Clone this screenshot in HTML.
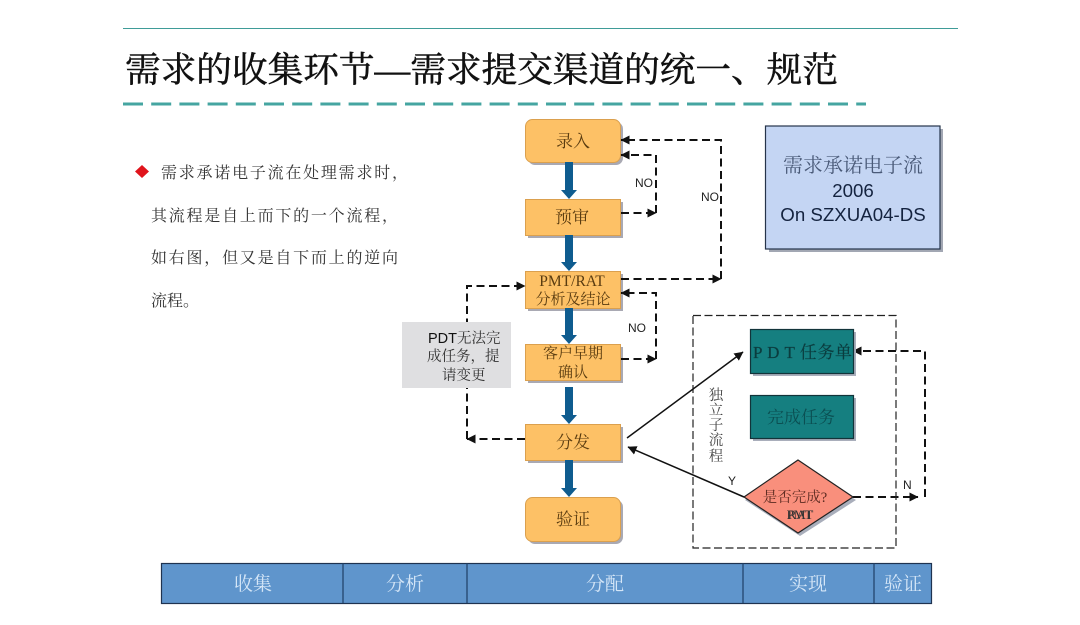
<!DOCTYPE html>
<html lang="zh">
<head>
<meta charset="utf-8">
<title>需求的收集环节</title>
<style>
html,body{margin:0;padding:0;background:#fff;width:1080px;height:625px;overflow:hidden}
svg{display:block;filter:blur(.35px)}
text{font-family:"Liberation Serif","Noto Serif CJK SC",serif}
text.s{font-family:"Liberation Sans","Noto Sans CJK SC",sans-serif}
</style>
</head>
<body>
<svg width="1080" height="625" viewBox="0 0 1080 625" xmlns="http://www.w3.org/2000/svg">
<defs>
<marker id="a" markerWidth="9" markerHeight="9" refX="8.500" refY="4.500" orient="auto" markerUnits="userSpaceOnUse"><path d="M0 0L9 4.500L0 9Z" fill="#111"/></marker>
</defs>
<rect width="1080" height="625" fill="#fff"/>

<!-- title -->
<line x1="123" y1="28.500" x2="958" y2="28.500" stroke="#3f9c98" stroke-width="1"/>
<text x="125" y="82" font-size="35" textLength="713" lengthAdjust="spacingAndGlyphs" fill="#111" stroke="#111" stroke-width=".5">需求的收集环节—需求提交渠道的统一、规范</text>
<line x1="123" y1="104" x2="866" y2="104" stroke="#45a5a1" stroke-width="3" stroke-dasharray="20 8.200"/>

<!-- left text -->
<path d="M142 165L149 171.500L142 178L135 171.500Z" fill="#e0141c"/>
<g font-size="16" fill="#333">
<text x="161" y="178" textLength="247">需求承诺电子流在处理需求时，</text>
<text x="151" y="221" textLength="247">其流程是自上而下的一个流程，</text>
<text x="151" y="263" textLength="247">如右图，但又是自下而上的逆向</text>
<text x="151" y="306">流程。</text>
</g>

<!-- shadows -->
<g fill="#a9a9b3">
<rect x="528" y="122" width="95" height="43" rx="7"/>
<rect x="528" y="202" width="95" height="36"/>
<rect x="528" y="274" width="95" height="37"/>
<rect x="528" y="347" width="95" height="36"/>
<rect x="528" y="427" width="95" height="36"/>
<rect x="528" y="500" width="95" height="44" rx="7"/>
</g>
<!-- orange nodes -->
<g fill="#fdc166" stroke="#dba04e" stroke-width="1">
<rect x="525.500" y="119.500" width="95" height="43" rx="7"/>
<rect x="525.500" y="199.500" width="95" height="36"/>
<rect x="525.500" y="271.500" width="95" height="37"/>
<rect x="525.500" y="344.500" width="95" height="36"/>
<rect x="525.500" y="424.500" width="95" height="36"/>
<rect x="525.500" y="497.500" width="95" height="44" rx="7"/>
</g>

<!-- thick arrows -->
<g fill="#0f5c8f">
<path d="M565 162H573V190H577L569 199L561 190H565Z"/>
<path d="M565 235H573V262H577L569 271L561 262H565Z"/>
<path d="M565 308H573V335H577L569 344L561 335H565Z"/>
<path d="M565 387H573V415H577L569 424L561 415H565Z"/>
<path d="M565 460H573V488H577L569 497L561 488H565Z"/>
</g>

<!-- node labels -->
<g fill="#5a3c10" text-anchor="middle">
<text x="573" y="147" font-size="17">录入</text>
<text x="572" y="223" font-size="17">预审</text>
<text x="572" y="286" font-size="15.500">PMT/RAT</text>
<text x="573" y="304" font-size="15">分析及结论</text>
<text x="573" y="358" font-size="15">客户早期</text>
<text x="573" y="377" font-size="15">确认</text>
<text x="573" y="448" font-size="17">分发</text>
<text x="573" y="525" font-size="17">验证</text>
</g>

<!-- dashed connectors -->
<g fill="none" stroke="#111" stroke-width="2" stroke-dasharray="8 4.500">
<path d="M621 213H656" marker-end="url(#a)"/>
<path d="M656 213V155H621" marker-end="url(#a)"/>
<path d="M621 279H721" marker-end="url(#a)"/>
<path d="M721 279V140H621" marker-end="url(#a)"/>
<path d="M621 359H656" marker-end="url(#a)"/>
<path d="M656 359V293H621" marker-end="url(#a)"/>
<path d="M525 439H467" marker-end="url(#a)"/>
<path d="M467 439V286H525" marker-end="url(#a)"/>
<path d="M853 497H918" marker-end="url(#a)"/>
<path d="M925 497V351H853" marker-end="url(#a)"/>
</g>
<rect x="634" y="175" width="21" height="16" fill="#fff"/>
<rect x="700" y="189" width="20" height="16" fill="#fff"/>
<g font-size="12" fill="#222">
<text class="s" x="635" y="187">NO</text>
<text class="s" x="701" y="201">NO</text>
<text class="s" x="628" y="332">NO</text>
</g>

<!-- gray note -->
<rect x="402" y="322" width="109" height="66" fill="#dfdfe1"/>
<g font-size="14.500" fill="#333">
<text x="428" y="343"><tspan style="font-family:'Liberation Sans'" fill="#111">PDT</tspan>无法完</text>
<text x="427" y="361">成任务，提</text>
<text x="442" y="380">请变更</text>
</g>

<!-- independent subprocess -->
<rect x="693" y="315.500" width="203" height="232.500" fill="none" stroke="#222" stroke-width="1.200" stroke-dasharray="8 3.500"/>
<g fill="#a9aebb">
<rect x="753" y="332" width="103" height="44"/>
<rect x="753" y="398" width="103" height="43"/>
<path d="M798 463L856 500L800 536L745 500Z"/>
</g>
<g fill="#157f80" stroke="#12343a" stroke-width="1.200">
<rect x="750.500" y="329.500" width="103" height="44"/>
<rect x="750.500" y="395.500" width="103" height="43"/>
</g>
<path d="M798 460L853 497L798 533L744 497Z" fill="#f98f7c" stroke="#222" stroke-width="1.200"/>
<text x="753" y="358" font-size="17" fill="#0b3d3f" stroke="#0b3d3f" stroke-width=".2" textLength="99">P D T 任务单</text>
<text x="801" y="423" font-size="17" fill="#0b4f52" text-anchor="middle">完成任务</text>
<text x="795" y="502" font-size="14.500" fill="#5a2a20" text-anchor="middle">是否完成?</text>
<text x="800" y="519" font-size="13" fill="#333" text-anchor="middle">PMT</text>
<text x="800" y="519" font-size="13" fill="#333" text-anchor="middle">RAT</text>
<g font-size="14.500" fill="#444" text-anchor="middle">
<text x="716" y="400">独</text>
<text x="716" y="415">立</text>
<text x="716" y="430">子</text>
<text x="716" y="445">流</text>
<text x="716" y="461">程</text>
</g>
<text class="s" x="728" y="485" font-size="12" fill="#222">Y</text>
<text class="s" x="903" y="489" font-size="12" fill="#222">N</text>

<!-- solid arrows -->
<g fill="none" stroke="#111" stroke-width="1.500">
<path d="M627 438L743 352" marker-end="url(#a)"/>
<path d="M744 497L628 447" marker-end="url(#a)"/>
</g>

<!-- blue note -->
<rect x="769" y="129" width="174" height="123" fill="#a2a7b3"/>
<rect x="765.500" y="126" width="174.500" height="123" fill="#c4d5f3" stroke="#26344a" stroke-width="1.200"/>
<text x="853" y="172" font-size="20" fill="#4a5a78" text-anchor="middle">需求承诺电子流</text>
<text class="s" x="853" y="197" font-size="18.700" fill="#14233f" text-anchor="middle">2006</text>
<text class="s" x="853" y="221" font-size="18.700" fill="#14233f" text-anchor="middle">On SZXUA04-DS</text>

<!-- phase bar -->
<rect x="161.500" y="563.500" width="770" height="40" fill="#5f95cc" stroke="#1f3350" stroke-width="1.200"/>
<g stroke="#1f3f66" stroke-width="1.200">
<line x1="343" y1="563" x2="343" y2="603"/>
<line x1="467" y1="563" x2="467" y2="603"/>
<line x1="743" y1="563" x2="743" y2="603"/>
<line x1="874" y1="563" x2="874" y2="603"/>
</g>
<g font-size="19" fill="#d5e6f7" text-anchor="middle">
<text x="253" y="590">收集</text>
<text x="405" y="590">分析</text>
<text x="605" y="590">分配</text>
<text x="808" y="590">实现</text>
<text x="903" y="590">验证</text>
</g>
</svg>
</body>
</html>
